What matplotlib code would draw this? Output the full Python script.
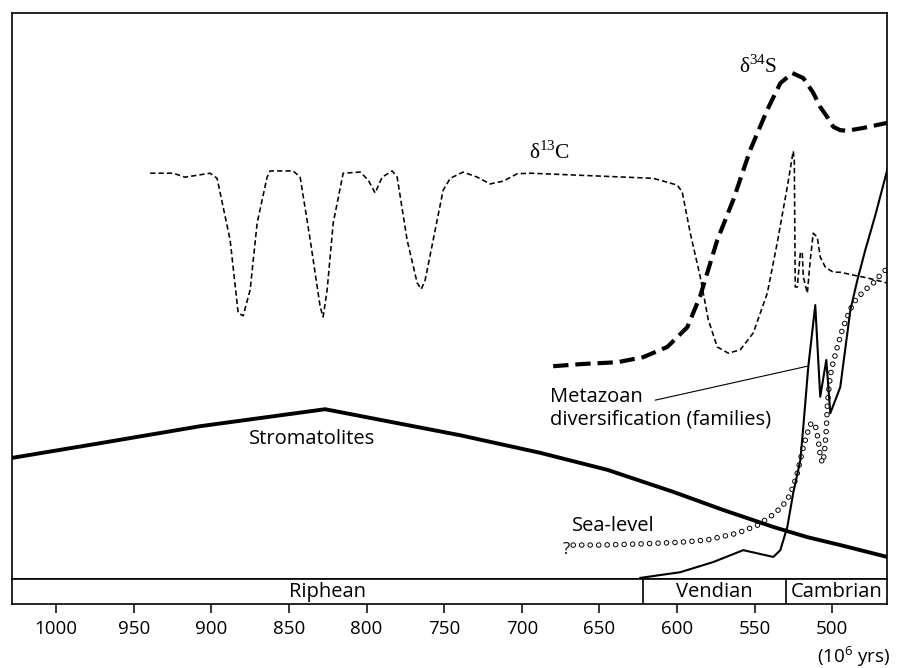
import matplotlib
matplotlib.use("Agg")
import matplotlib.pyplot as plt

plt.rcParams['font.family'] = ['Open Sans', 'DejaVu Sans']
plt.rcParams['mathtext.fontset'] = 'custom'
plt.rcParams['mathtext.rm'] = 'Liberation Serif'
plt.rcParams['mathtext.sf'] = 'Open Sans'
plt.rcParams['lines.scale_dashes'] = False

# ages in 10^6 yrs, values in relative units (0-100 of panel height)
strom_age = [1028.4, 971.6, 907.2, 826.7, 739.7, 688.2, 645.0, 602.5, 570.3,
             538.0, 516.1, 494.9, 464.6]
strom_val = [21.4, 24.0, 27.0, 30.0, 25.4, 22.3, 19.3, 15.4, 12.2,
             9.2, 7.4, 6.0, 3.9]

c13_age = [939.4, 924.6, 916.9, 900.8, 896.3, 887.9, 882.7, 879.5, 875.0, 870.5,
           864.1, 862.1, 847.3, 842.8, 836.3, 829.9, 828.0, 825.4, 821.5, 815.1,
           804.1, 799.0, 794.5, 790.0, 783.5, 780.3, 773.9, 767.4, 764.8, 762.3,
           757.1, 750.7, 746.1, 737.8, 728.7, 720.4, 712.0, 703.0, 694.6, 615.4,
           599.9, 596.7, 591.5, 585.1, 579.9, 574.1, 567.0, 559.3, 550.9, 541.9,
           535.5, 529.0, 525.2, 524.5, 523.9, 522.6, 520.6, 519.4, 518.7, 516.1,
           514.2, 512.3, 509.7, 507.8, 504.5, 499.4, 494.9, 486.5, 477.5, 464.6]
c13_val = [71.7, 71.7, 71.0, 71.7, 70.8, 59.9, 47.0, 46.5, 51.1, 62.9,
           71.0, 72.1, 72.1, 71.0, 59.9, 48.1, 46.3, 51.1, 62.9, 71.7,
           71.9, 70.5, 68.2, 71.0, 72.1, 71.0, 59.9, 52.3, 51.2, 52.8,
           59.9, 68.7, 70.8, 71.9, 71.0, 69.8, 70.3, 71.6, 71.7, 70.8,
           69.6, 68.4, 61.1, 53.4, 45.8, 41.0, 39.9, 40.5, 43.5, 50.5,
           59.4, 69.3, 75.6, 74.0, 51.6, 51.6, 57.6, 57.8, 53.4, 50.5,
           56.4, 61.1, 60.4, 56.9, 55.1, 54.2, 54.2, 53.7, 53.2, 52.3]

s34_age = [679.8, 660.5, 638.5, 621.8, 606.3, 593.4, 585.1, 574.1, 563.8, 552.9,
           541.9, 533.5, 525.8, 518.7, 512.3, 507.8, 503.2, 499.4, 494.9, 490.4,
           480.0, 464.6]
s34_val = [37.6, 38.0, 38.3, 39.2, 41.0, 44.5, 50.0, 59.9, 67.0, 75.8,
           82.9, 87.6, 89.4, 88.5, 85.9, 83.4, 81.6, 79.9, 79.3, 79.2,
           79.7, 80.6]

meta_age = [623.7, 598.0, 576.7, 557.4, 538.0, 533.5, 529.0, 525.2, 520.6, 518.7,
            515.5, 511.0, 507.8, 503.9, 501.3, 494.9, 488.4, 483.9, 478.8, 472.3,
            464.6]
meta_val = [0.2, 1.2, 3.0, 5.1, 3.9, 5.1, 9.2, 15.2, 21.0, 26.9,
            37.5, 48.4, 32.2, 38.7, 29.3, 33.9, 47.5, 52.8, 58.1, 64.3,
            72.3]

sea_age = [666.9, 649.5, 623.7, 598.0, 580.6, 561.2, 548.3, 540.0, 533.5, 529.0,
           525.2, 522.6, 520.6, 518.7, 516.1, 513.6, 511.0, 509.1, 507.8, 506.5,
           505.2, 503.9, 503.2, 502.0, 500.7, 499.4, 496.8, 493.6, 490.4, 486.5,
           482.0, 477.5, 473.6, 469.1, 464.6]
sea_val = [6.0, 6.0, 6.2, 6.5, 6.9, 8.1, 9.5, 11.0, 12.5, 14.0,
           16.3, 18.7, 21.0, 23.3, 25.8, 27.6, 27.2, 24.6, 21.9, 20.5,
           21.9, 26.3, 30.7, 34.3, 36.9, 38.3, 41.0, 44.0, 46.3, 48.8,
           50.2, 51.4, 52.3, 53.7, 54.9]

periods = ['Riphean', 'Vendian', 'Cambrian']
period_bounds = [1028.4, 622, 530, 464.6]
tick_ages = [1000, 950, 900, 850, 800, 750, 700, 650, 600, 550, 500]

fig = plt.figure(figsize=(9.02, 6.68), dpi=100)
ax = fig.add_axes([0.0133, 0.1332, 0.9704, 0.8473])
bar = fig.add_axes([0.0133, 0.0958, 0.9704, 0.0374])

ax.set_xlim(period_bounds[0], period_bounds[-1])
ax.set_ylim(0, 100)
ax.set_xticks([])
ax.set_yticks([])
for s in ax.spines.values():
    s.set_linewidth(1.2)

# sea-level as open circles (black dots with white centres)
ax.plot(sea_age, sea_val, color='black', lw=4.0, linestyle=(0, (0.01, 6.1)),
        dash_capstyle='round', zorder=2)
ax.plot(sea_age, sea_val, color='white', lw=2.6, linestyle=(0, (0.01, 6.1)),
        dash_capstyle='round', zorder=2.1)

ax.plot(strom_age, strom_val, color='black', lw=2.8, solid_joinstyle='round', zorder=3)
ax.plot(c13_age, c13_val, color='black', lw=1.15, linestyle=(0, (3.8, 2.2)),
        dash_joinstyle='round', zorder=3)
ax.plot(s34_age, s34_val, color='black', lw=3.0, linestyle=(0, (11, 5)),
        dash_joinstyle='round', zorder=3)
ax.plot(meta_age, meta_val, color='black', lw=1.5, solid_joinstyle='round', zorder=3)

ax.text(682, 75.3, r'δ$^{13}$C', family='Liberation Serif', fontsize=15.5,
        ha='center', va='center')
ax.text(547.7, 90.6, r'δ$^{34}$S', family='Liberation Serif', fontsize=15.5,
        ha='center', va='center')
ax.text(835, 24.7, 'Stromatolites', fontsize=14.5, ha='center', va='center')
ax.text(681.7, 32.2, 'Metazoan', fontsize=14.5, ha='left', va='center')
ax.text(681.7, 28.1, 'diversification (families)', fontsize=14.5, ha='left', va='center')
ax.text(667.5, 9.4, 'Sea-level', fontsize=14.5, ha='left', va='center')
ax.text(671.4, 5.1, '?', fontsize=12, ha='center', va='center')
ax.annotate('', xy=(516.1, 37.6), xytext=(614.1, 31.6),
            arrowprops=dict(arrowstyle='-', lw=0.8, color='black',
                            shrinkA=0, shrinkB=0))

# period bar
bar.set_xlim(period_bounds[0], period_bounds[-1])
bar.set_ylim(0, 1)
bar.set_yticks([])
for s in bar.spines.values():
    s.set_linewidth(1.2)
for b in period_bounds[1:-1]:
    bar.axvline(b, color='black', lw=1.2)
for name, a0, a1 in zip(periods, period_bounds[:-1], period_bounds[1:]):
    bar.text((a0 + a1) / 2, 0.5, name, fontsize=14.5, ha='center', va='center')
bar.set_xticks(tick_ages)
bar.set_xticklabels([str(t) for t in tick_ages])
bar.tick_params(axis='x', direction='out', length=6.5, width=1.1, pad=5,
                labelsize=13.5)

fig.text(0.9867, 0.0165, r'(10$^{\mathsf{6}}$ yrs)', fontsize=13.5,
         ha='right', va='center')

fig.savefig('out.png', dpi=100, facecolor='white')
